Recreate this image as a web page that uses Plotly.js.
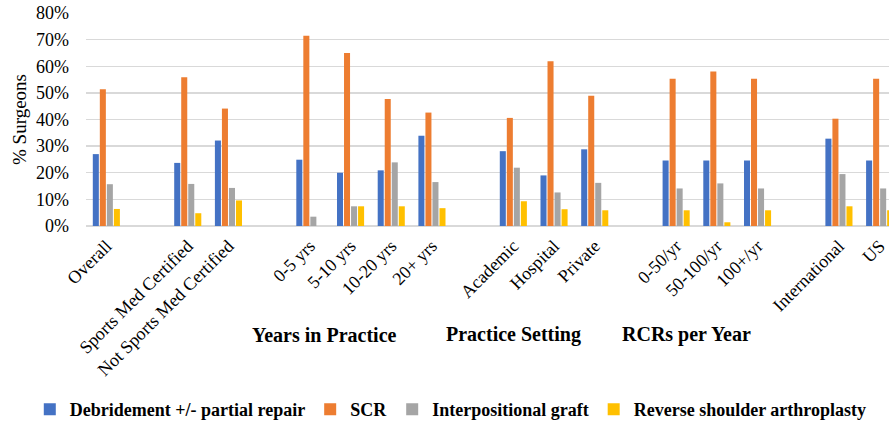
<!DOCTYPE html>
<html>
<head>
<meta charset="utf-8">
<script src="https://cdn.plot.ly/plotly-3.0.1.min.js"></script>
<style>
  html, body { margin: 0; padding: 0; background: #fff; }
  #chart { width: 889px; height: 428px; }
</style>
</head>
<body>
<div id="chart"></div>
<script>
// Surgeon preference by subgroup (% of respondents)
const categories = [
  "Overall",
  "Sports Med Certified", "Not Sports Med Certified",
  "0-5 yrs", "5-10 yrs", "10-20 yrs", "20+ yrs",
  "Academic", "Hospital", "Private",
  "0-50/yr", "50-100/yr", "100+/yr",
  "International", "US"
];
// number of categories in each block; blocks are separated by an empty slot
const blockSizes = [1, 2, 4, 3, 3, 2];

const debridement = [27.0, 23.7, 32.1, 24.9, 20.0, 20.9, 33.9, 28.1, 19.0, 28.8, 24.6, 24.6, 24.6, 32.8, 24.6];
const scr         = [51.4, 55.9, 44.1, 71.5, 65.0, 47.7, 42.6, 40.6, 61.9, 48.9, 55.3, 58.0, 55.3, 40.3, 55.3];
const graft       = [15.7, 15.8, 14.3,  3.5,  7.4, 23.9, 16.5, 21.9, 12.6, 16.2, 14.1, 16.0, 14.1, 19.5, 14.1];
const reverse     = [ 6.4,  4.8,  9.6,  0.0,  7.4,  7.4,  6.7,  9.3,  6.3,  5.9,  5.9,  1.4,  5.9,  7.4,  5.9];

const seriesNames = [
  "Debridement +/- partial repair",
  "SCR",
  "Interpositional graft",
  "Reverse shoulder arthroplasty"
];
const seriesColors = ["#4472C4", "#ED7D31", "#A5A5A5", "#FFC000"];

const blockTitles = ["Years in Practice", "Practice Setting", "RCRs per Year"];

// category order with blank spacer slots between blocks
const categoryOrder = [];
let k = 0;
blockSizes.forEach((n, b) => {
  if (b > 0) categoryOrder.push(" ".repeat(b));
  for (let i = 0; i < n; i++) categoryOrder.push(categories[k++]);
});

const serif = "Liberation Serif";

const traces = [debridement, scr, graft, reverse].map((vals, i) => ({
  type: "bar",
  name: seriesNames[i],
  x: categories,
  y: vals,
  marker: { color: seriesColors[i] },
  hoverinfo: "x+y+name"
}));

const layout = {
  width: 889,
  height: 428,
  margin: { l: 86, r: 0, t: 13, b: 202 },
  paper_bgcolor: "#ffffff",
  plot_bgcolor: "#ffffff",
  font: { family: serif, color: "#000000", size: 18 },
  barmode: "group",
  bargap: 0.31,
  bargroupgap: 0.14,
  showlegend: true,
  legend: {
    orientation: "h",
    x: -0.07,
    xanchor: "left",
    y: -0.864,
    yanchor: "middle",
    font: { family: serif, size: 18, weight: "bold" },
    itemwidth: 30,
    tracegroupgap: 0
  },
  xaxis: {
    type: "category",
    categoryorder: "array",
    categoryarray: categoryOrder,
    range: [-0.5, 19.23],
    tickangle: -45,
    tickfont: { family: serif, size: 18 },
    ticklabelstandoff: 5,
    showgrid: false,
    showline: false,
    ticks: "",
    fixedrange: true
  },
  yaxis: {
    range: [0, 80],
    dtick: 10,
    ticksuffix: "%",
    tickfont: { family: serif, size: 18 },
    showgrid: true,
    gridcolor: "#D9D9D9",
    gridwidth: 1.3,
    zeroline: true,
    zerolinecolor: "#D9D9D9",
    zerolinewidth: 1.3,
    showline: false,
    ticks: "",
    ticklabelstandoff: 16,
    title: { text: "% Surgeons", font: { family: serif, size: 19 }, standoff: 4 },
    fixedrange: true
  },
  annotations: [
    { text: blockTitles[0], x: 0.2976, y: -0.51 },
    { text: blockTitles[1], x: 0.532, y: -0.51 },
    { text: blockTitles[2], x: 0.748, y: -0.51 }
  ].map(a => Object.assign({
    xref: "paper", yref: "paper", showarrow: false,
    xanchor: "center", yanchor: "middle",
    font: { family: serif, size: 20, weight: "bold", color: "#000" }
  }, a))
};

Plotly.newPlot("chart", traces, layout, { displayModeBar: false, staticPlot: true });
</script>
</body>
</html>
